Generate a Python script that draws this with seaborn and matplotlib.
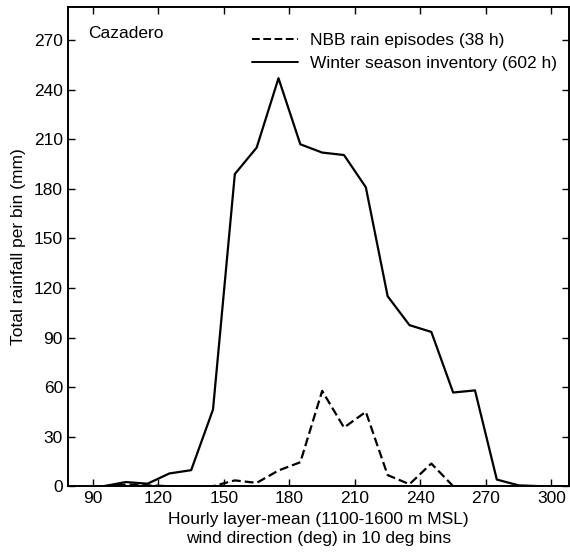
import pandas as pd
import matplotlib
matplotlib.use("Agg")
import matplotlib.pyplot as plt
import seaborn as sns

# bin centres (deg) and rainfall per bin (mm)
direction = [95, 105, 115, 125, 135, 145, 155, 165, 175, 185, 195,
             205, 215, 225, 235, 245, 255, 265, 275, 285, 295, 305]
winter = [0, 2.5, 1.5, 7.7, 9.7, 46.4, 189, 205, 247, 207, 202,
          200.5, 181, 115, 97.5, 93.4, 56.7, 58, 4, 0.5, 0, 0]
nbb = [0, 1, 0.5, 0, 0, 0, 3.5, 2, 9.5, 14.5, 57.7,
       35.5, 45, 6.7, 1.2, 13.7, 0, 0, 0, 0, 0, 0]

x_ticks = [90, 120, 150, 180, 210, 240, 270, 300]
y_ticks = [0, 30, 60, 90, 120, 150, 180, 210, 240, 270]


def main() -> None:
    sns.set_style("ticks")
    plt.rcParams["font.family"] = ["Liberation Sans", "DejaVu Sans"]
    # black text and frame like the printed figure
    for key in ["text.color", "axes.labelcolor", "xtick.color",
                "ytick.color", "axes.edgecolor"]:
        plt.rcParams[key] = "black"

    data = pd.DataFrame({
        "direction": direction * 2,
        "rain": nbb + winter,
        "series": ["NBB rain episodes (38 h)"] * len(nbb)
        + ["Winter season inventory (602 h)"] * len(winter),
    })

    fig = plt.figure(figsize=(5.7, 5.55), dpi=100)
    ax = fig.add_axes([0.119, 0.124, 0.879, 0.863])
    sns.lineplot(
        data=data,
        x="direction",
        y="rain",
        hue="series",
        style="series",
        palette=["black", "black"],
        dashes=[(4, 1.8), ""],
        linewidth=1.6,
        ax=ax,
    )

    ax.set_xlim(78.5, 308)
    ax.set_ylim(0, 290)
    ax.set_xticks(x_ticks)
    ax.set_yticks(y_ticks)
    ax.tick_params(direction="in", top=True, right=True, length=5,
                   labelsize=12.5, width=1)
    for spine in ax.spines.values():
        spine.set_linewidth(1.4)

    ax.set_xlabel("Hourly layer-mean (1100-1600 m MSL)\nwind direction (deg) in 10 deg bins",
                  fontsize=12.5, linespacing=1.35)
    ax.set_ylabel("Total rainfall per bin (mm)", fontsize=12.5, labelpad=6)
    ax.text(0.04, 0.945, "Cazadero", transform=ax.transAxes, fontsize=12.5,
            va="center")

    leg = ax.legend(loc="upper right", bbox_to_anchor=(1.0, 0.972), frameon=False,
                    fontsize=12.5, handlelength=2.6, handletextpad=0.7,
                    labelspacing=0.45, borderaxespad=0.3)
    for line in leg.get_lines():
        line.set_linewidth(1.4)

    fig.savefig("out.png", dpi=100)
    plt.close(fig)


if __name__ == "__main__":
    main()
